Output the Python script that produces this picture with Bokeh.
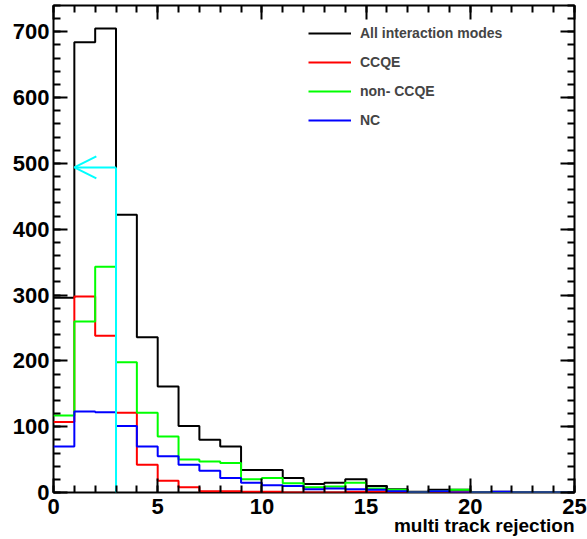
from bokeh.plotting import figure
from bokeh.models import (LinearAxis, SingleIntervalTicker, Range1d, Legend,
                          LegendItem, Arrow, OpenHead, CustomJSTickFormatter, Title)
from bokeh.embed import file_html
from bokeh.resources import INLINE

# ---- data ----
bin_edges = list(range(0, 26))
all_modes = [296, 684, 705, 422, 236, 161, 101, 80, 70, 34, 34, 22, 13, 15, 20, 10, 5, 1, 4, 4, 0, 1, 0, 0, 0]
ccqe      = [107, 298, 238, 121, 42, 18, 8, 2, 2, 1, 1, 0, 0, 0, 1, 1, 0, 0, 0, 0, 0, 0, 0, 0, 0]
non_ccqe  = [117, 260, 343, 198, 121, 85, 50, 47, 45, 20, 22, 14, 8, 9, 15, 6, 4, 0, 2, 4, 0, 0, 0, 0, 0]
nc        = [70, 123, 122, 101, 70, 55, 42, 33, 22, 15, 11, 10, 5, 6, 5, 4, 2, 0, 2, 0, 0, 1, 0, 0, 0]
series_names = ["All interaction modes", "CCQE", "non- CCQE", "NC"]
series_colors = ["#000000", "#ff0000", "#00ff00", "#0000ff"]
cut_value = 3
arrow_level = 494
arrow_tip = 1
x_title = "multi track rejection"

FONT = "Liberation Sans"

p = figure(width=587, height=539, x_range=Range1d(0, 25), y_range=Range1d(0, 740),
           output_backend="svg", toolbar_location=None,
           min_border_left=53, min_border_right=13, min_border_top=5, min_border_bottom=47,
           x_axis_type=None, y_axis_type=None)
p.outline_line_color = "black"
p.outline_line_width = 2
p.background_fill_color = "white"
p.border_fill_color = "white"


def make_axis(ticker_interval, show_labels):
    ax = LinearAxis(ticker=SingleIntervalTicker(interval=ticker_interval, num_minor_ticks=5))
    ax.axis_line_color = None
    ax.major_tick_in = 14
    ax.major_tick_out = 0
    ax.minor_tick_in = 7
    ax.minor_tick_out = 0
    ax.major_tick_line_width = 2
    ax.minor_tick_line_width = 2
    ax.major_tick_line_color = "black"
    ax.minor_tick_line_color = "black"
    ax.major_label_text_font = FONT
    ax.major_label_text_font_style = "bold"
    ax.major_label_text_color = "black"
    ax.major_label_text_font_size = "22px"
    if not show_labels:
        ax.formatter = CustomJSTickFormatter(code="return ''")
        ax.major_label_standoff = 0
    return ax


bottom = make_axis(5, True)
bottom.major_label_standoff = 6
left = make_axis(100, True)
left.major_label_standoff = 4
top = make_axis(5, False)
right = make_axis(100, False)
p.add_layout(bottom, "below")
p.add_layout(left, "left")
p.add_layout(top, "above")
p.add_layout(right, "right")

p.add_layout(Title(text=x_title, align="right", standoff=-8, offset=0,
                   text_font=FONT, text_font_style="bold", text_font_size="19px",
                   text_color="black"), "below")

renderers = []
for vals, col in zip([all_modes, ccqe, non_ccqe, nc], series_colors):
    r = p.step(x=bin_edges, y=vals + [vals[-1]], mode="after", line_color=col, line_width=2)
    renderers.append(r)

# cut line and arrow
p.line(x=[cut_value, cut_value], y=[0, arrow_level], line_color="#00ffff", line_width=2)
p.add_layout(Arrow(x_start=cut_value, y_start=arrow_level, x_end=arrow_tip, y_end=arrow_level,
                   line_color="#00ffff", line_width=2,
                   end=OpenHead(size=22, line_color="#00ffff", line_width=2)))

legend = Legend(items=[LegendItem(label=n, renderers=[r]) for n, r in zip(series_names, renderers)],
                location=(255, 362), padding=0, margin=0, spacing=9,
                glyph_width=43, glyph_height=20, label_height=20, label_standoff=9,
                label_text_font=FONT, label_text_font_style="bold", label_text_font_size="14px",
                border_line_color=None, background_fill_alpha=0)
p.add_layout(legend)

open("out.html", "w").write(file_html(p, INLINE))
